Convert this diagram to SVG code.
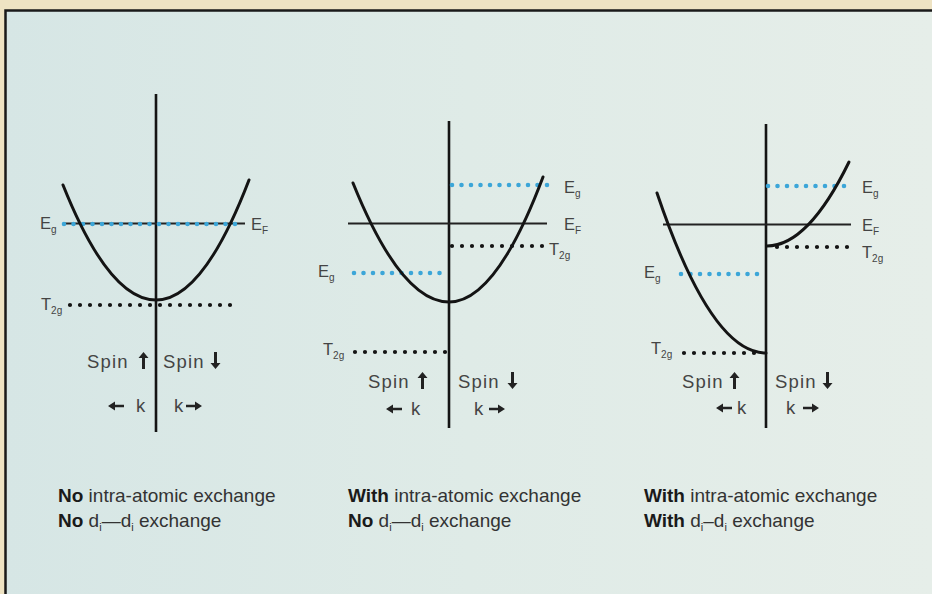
<svg xmlns="http://www.w3.org/2000/svg" width="932" height="594" viewBox="0 0 932 594">
  <defs>
    <linearGradient id="bg" x1="0" y1="0" x2="1" y2="0">
      <stop offset="0" stop-color="#d6e6e5"/>
      <stop offset="0.5" stop-color="#dfebe7"/>
      <stop offset="1" stop-color="#e6eee9"/>
    </linearGradient>
  </defs>
  <style>
    .axis { stroke: #141414; stroke-width: 2.6; fill: none; }
    .curve { stroke: #141414; stroke-width: 3; fill: none; stroke-linecap: round; }
    .ef { stroke: #222; stroke-width: 2; fill: none; }
    .tdots { stroke: #141414; stroke-width: 4.2; stroke-linecap: round; stroke-dasharray: 0 10; fill: none; }
    .edots { stroke: #3ca6d8; stroke-width: 4.6; stroke-linecap: round; stroke-dasharray: 0 9.5; fill: none; }
    .lbl { font-family: "Liberation Sans", Arial, sans-serif; font-size: 16.5px; fill: #444; }
    .sub { font-size: 10px; }
    .spin { font-family: "Liberation Sans", Arial, sans-serif; font-size: 18.5px; fill: #444; letter-spacing: 1.2px; }
    .cap { font-family: "Liberation Sans", Arial, sans-serif; font-size: 19px; fill: #333; }
    .csub { font-size: 11px; }
    .b { font-weight: bold; fill: #1a1a1a; }
    .arr { fill: #222; }
  </style>

  <rect x="0" y="0" width="932" height="594" fill="#eee3c3"/>
  <rect x="5" y="10" width="927" height="584" fill="url(#bg)"/>
  <path d="M5.5,594 V10.5 H932" stroke="#1a1a1a" stroke-width="2.5" fill="none"/>

  <!-- Panel 1 -->
  <g id="panel1">
    <line class="axis" x1="156" y1="94" x2="156" y2="432"/>
    <line class="ef" x1="64" y1="223.5" x2="245" y2="223.5"/>
    <line class="edots" x1="64" y1="224" x2="244" y2="224"/>
    <line class="tdots" x1="70" y1="305" x2="240" y2="305"/>
    <path class="curve" d="M63,185 Q109,300 156,300 Q203,300 249,180"/>
    <text class="lbl" x="40" y="229">E<tspan class="sub" dy="4">g</tspan></text>
    <text class="lbl" x="251" y="230">E<tspan class="sub" dy="4">F</tspan></text>
    <text class="lbl" x="41" y="310">T<tspan class="sub" dy="4">2g</tspan></text>
    <text class="spin" x="87" y="368">Spin</text>
    <path class="arr" d="M142,369 V358 h-3.5 l5,-6 l5,6 h-3.5 V369 z"/>
    <text class="spin" x="163" y="368">Spin</text>
    <path class="arr" d="M214,352 V363 h-3.5 l5,6 l5,-6 h-3.5 V352 z"/>
    <path class="arr" d="M124,404.7 H115 V401.5 l-7,4.5 l7,4.5 V407.3 H124 z"/>
    <text class="spin" x="136" y="412">k</text>
    <text class="spin" x="174" y="412">k</text>
    <path class="arr" d="M186,404.7 H195 V401.5 l7,4.5 l-7,4.5 V407.3 H186 z"/>
  </g>

  <!-- Panel 2 -->
  <g id="panel2">
    <line class="axis" x1="449" y1="121" x2="449" y2="428"/>
    <line class="ef" x1="348" y1="223.5" x2="547" y2="223.5"/>
    <line class="edots" x1="452" y1="185" x2="552" y2="185"/>
    <line class="tdots" x1="452" y1="246" x2="543" y2="246"/>
    <line class="edots" x1="354" y1="273" x2="445" y2="273"/>
    <line class="tdots" x1="355" y1="352" x2="446" y2="352"/>
    <path class="curve" d="M353,183 Q401,302 449,302 Q496,302 543,177"/>
    <text class="lbl" x="564" y="193">E<tspan class="sub" dy="4">g</tspan></text>
    <text class="lbl" x="564" y="230">E<tspan class="sub" dy="4">F</tspan></text>
    <text class="lbl" x="549" y="255">T<tspan class="sub" dy="4">2g</tspan></text>
    <text class="lbl" x="318" y="277">E<tspan class="sub" dy="4">g</tspan></text>
    <text class="lbl" x="323" y="355">T<tspan class="sub" dy="4">2g</tspan></text>
    <text class="spin" x="368" y="388">Spin</text>
    <path class="arr" d="M421,389 V378 h-3.5 l5,-6 l5,6 h-3.5 V389 z"/>
    <text class="spin" x="458" y="388">Spin</text>
    <path class="arr" d="M511,372 V383 h-3.5 l5,6 l5,-6 h-3.5 V372 z"/>
    <path class="arr" d="M402,407.7 H393 V404.5 l-7,4.5 l7,4.5 V410.3 H402 z"/>
    <text class="spin" x="411" y="415">k</text>
    <text class="spin" x="474" y="415">k</text>
    <path class="arr" d="M489,407.7 H498 V404.5 l7,4.5 l-7,4.5 V410.3 H489 z"/>
  </g>

  <!-- Panel 3 -->
  <g id="panel3">
    <line class="axis" x1="766" y1="124" x2="766" y2="428"/>
    <line class="ef" x1="663" y1="224.5" x2="851" y2="224.5"/>
    <line class="edots" x1="768" y1="186" x2="848" y2="186"/>
    <line class="tdots" x1="777" y1="247" x2="848" y2="247"/>
    <line class="edots" x1="681" y1="274" x2="763" y2="274"/>
    <line class="tdots" x1="684" y1="353" x2="762" y2="353"/>
    <path class="curve" d="M657,193 Q711,353 766,353"/>
    <path class="curve" d="M767,246 Q808,246 849,162"/>
    <text class="lbl" x="862" y="193">E<tspan class="sub" dy="4">g</tspan></text>
    <text class="lbl" x="862" y="231">E<tspan class="sub" dy="4">F</tspan></text>
    <text class="lbl" x="862" y="258">T<tspan class="sub" dy="4">2g</tspan></text>
    <text class="lbl" x="644" y="278">E<tspan class="sub" dy="4">g</tspan></text>
    <text class="lbl" x="651" y="354">T<tspan class="sub" dy="4">2g</tspan></text>
    <text class="spin" x="682" y="388">Spin</text>
    <path class="arr" d="M733,389 V378 h-3.5 l5,-6 l5,6 h-3.5 V389 z"/>
    <text class="spin" x="775" y="388">Spin</text>
    <path class="arr" d="M826,372 V383 h-3.5 l5,6 l5,-6 h-3.5 V372 z"/>
    <path class="arr" d="M732,406.7 H723 V403.5 l-7,4.5 l7,4.5 V409.3 H732 z"/>
    <text class="spin" x="737" y="414">k</text>
    <text class="spin" x="786" y="414">k</text>
    <path class="arr" d="M803,406.7 H812 V403.5 l7,4.5 l-7,4.5 V409.3 H803 z"/>
  </g>

  <!-- Captions -->
  <g id="captions">
    <text class="cap" x="58" y="502"><tspan class="b">No</tspan> intra-atomic exchange</text>
    <text class="cap" x="58" y="527"><tspan class="b">No</tspan> d<tspan class="csub" dy="4">i</tspan><tspan dy="-4">—d</tspan><tspan class="csub" dy="4">i</tspan><tspan dy="-4"> exchange</tspan></text>
    <text class="cap" x="348" y="502"><tspan class="b">With</tspan> intra-atomic exchange</text>
    <text class="cap" x="348" y="527"><tspan class="b">No</tspan> d<tspan class="csub" dy="4">i</tspan><tspan dy="-4">—d</tspan><tspan class="csub" dy="4">i</tspan><tspan dy="-4"> exchange</tspan></text>
    <text class="cap" x="644" y="502"><tspan class="b">With</tspan> intra-atomic exchange</text>
    <text class="cap" x="644" y="527"><tspan class="b">With</tspan> d<tspan class="csub" dy="4">i</tspan><tspan dy="-4">–d</tspan><tspan class="csub" dy="4">i</tspan><tspan dy="-4"> exchange</tspan></text>
  </g>
</svg>
